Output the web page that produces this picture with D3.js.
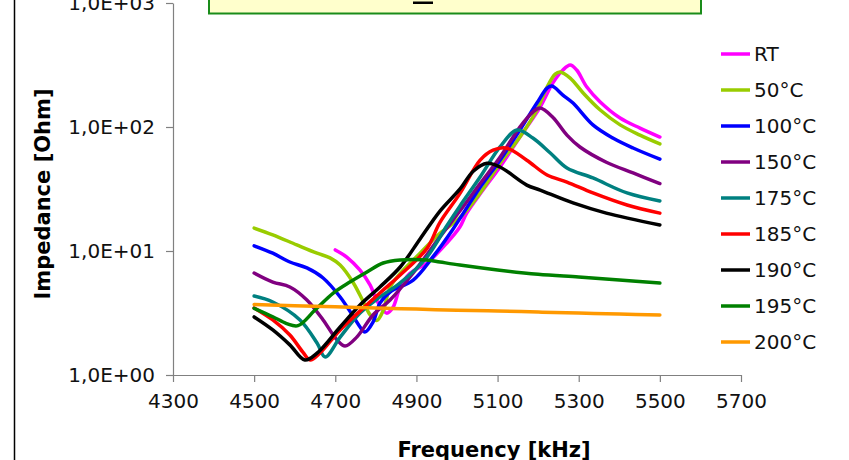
<!DOCTYPE html>
<html><head><meta charset="utf-8">
<script src="https://cdnjs.cloudflare.com/ajax/libs/d3/7.8.5/d3.min.js"></script>
<style>
html,body{margin:0;padding:0;background:#fff;}
svg{display:block;font-family:"DejaVu Sans",Verdana,sans-serif;}
</style></head>
<body><svg id="c" width="849" height="460"></svg>
<script>
const seriesNames = ["RT","50°C","100°C","150°C","175°C","185°C","190°C","195°C","200°C"];
const seriesColors = ["#FF00FF","#99CC00","#0000FF","#800080","#008080","#FF0000","#000000","#008000","#FF9900"];
const xTicks = [4300,4500,4700,4900,5100,5300,5500,5700];
const yTicks = [1,10,100,1000];

const fRT   = [4700,4729,4761,4786,4802,4818,4827,4842,4860,4884,4926,4975,5007,5024,5064,5106,5155,5205,5236,5261,5279,5295,5320,5353,5402,5451,5500];
const zRT   = [10.2,8.9,7.0,5.3,4.0,3.35,3.15,3.5,5.1,6.6,8.0,11.6,15.6,20.2,31,47.6,83,145,226,288,316,288,210,159,118,98,83];
const f50   = [4500,4546,4605,4655,4687,4712,4745,4769,4786,4802,4818,4835,4860,4909,4958,5007,5057,5106,5155,5197,5222,5242,5254,5279,5311,5353,5402,5451,5500];
const z50   = [15.3,13.5,11.2,9.6,8.8,7.7,5.5,3.9,3.05,2.75,3.3,5.1,6.6,9.6,13.9,18.5,29.4,51,83,137,210,267,278,248,188,137,104,86,73];
const f100  = [4500,4546,4588,4630,4670,4712,4745,4761,4773,4793,4810,4835,4892,4941,4990,5057,5106,5155,5197,5222,5234,5261,5286,5335,5384,5434,5500];
const z100  = [11,9.6,8.15,7.3,6.06,4.26,2.94,2.44,2.22,2.67,3.8,4.67,5.83,9.0,15,32.6,54,94.6,156,206,214,181,156,104,81.5,67.7,55];
const f150  = [4500,4546,4588,4630,4670,4704,4724,4753,4793,4835,4892,4958,5007,5057,5106,5155,5187,5205,5236,5271,5303,5368,5434,5500];
const z150  = [6.65,5.62,5.13,4.03,2.78,1.92,1.71,2.02,3.05,4.03,6.65,13,21,35,57,100,132,142,120,86,69,52,42.6,35];
const f175  = [4500,4546,4613,4655,4675,4712,4761,4810,4860,4926,4975,5007,5057,5106,5148,5187,5230,5271,5335,5419,5500];
const z175  = [4.34,3.88,2.78,1.81,1.4,2.02,3.16,4.26,5.53,8.94,16,23,39.5,69,94.6,81.5,61.7,46.7,38.8,29.4,25.3];
const f185  = [4500,4546,4588,4620,4638,4662,4712,4810,4860,4926,4958,5007,5057,5089,5123,5172,5222,5271,5335,5419,5500];
const z185  = [3.47,2.78,2.1,1.53,1.32,1.5,2.31,4.58,6.4,10.5,17,29,54,65,67.5,54,41,36,29.4,23.5,20.2];
const f190  = [4500,4546,4588,4625,4655,4712,4761,4810,4860,4909,4958,5007,5040,5074,5106,5172,5205,5286,5368,5500];
const z190  = [2.94,2.31,1.75,1.32,1.5,2.44,3.67,5.13,7.43,12.5,21,31.5,44,51,47.6,34,31,24.4,20.2,16.2];
const f195  = [4500,4546,4580,4608,4650,4695,4736,4778,4818,4860,4926,4958,5007,5100,5200,5300,5400,5500];
const z195  = [3.45,2.95,2.6,2.5,3.34,4.58,5.62,6.77,8.0,8.46,8.46,8.15,7.7,7.03,6.5,6.17,5.84,5.52];
const f200  = [4500,4600,4700,4800,4900,5000,5100,5200,5300,5400,5500];
const z200  = [3.7,3.62,3.55,3.47,3.4,3.33,3.28,3.22,3.16,3.1,3.05];

const freqs = [fRT,f50,f100,f150,f175,f185,f190,f195,f200];
const imps  = [zRT,z50,z100,z150,z175,z185,z190,z195,z200];

const svg = d3.select("#c");
const x = d3.scaleLinear().domain([4300,5700]).range([173,741]);
const y = d3.scaleLog().domain([1,1000]).range([375,3]);

// outer frame line (left)
svg.append("line").attr("x1",14.5).attr("x2",14.5).attr("y1",0).attr("y2",460)
  .attr("stroke","#000").attr("stroke-width",1.5);

// title box (mostly cut off at top)
svg.append("rect").attr("x",209).attr("y",-30).attr("width",492).attr("height",43.5)
  .attr("fill","#FFFFCC").attr("stroke","#1a8c1a").attr("stroke-width",2);
svg.append("text").attr("x",455).attr("y",0.3).attr("text-anchor","middle")
  .attr("font-size",20).attr("font-weight","bold").attr("fill","#000")
  .text("Resonance:  RT  to  200°C  now");
svg.append("rect").attr("x",413).attr("y",1.5).attr("width",20).attr("height",2.5).attr("fill","#000");

// axes
const fmt = d => "1,0E+0" + Math.round(Math.log10(d));
const gy = svg.append("g").attr("transform","translate(173,0)")
  .call(d3.axisLeft(y).tickValues(yTicks).tickFormat(fmt).tickSize(7).tickSizeOuter(0).tickPadding(11));
const gx = svg.append("g").attr("transform","translate(0,375)")
  .call(d3.axisBottom(x).tickValues(xTicks).tickFormat(d3.format("d")).tickSize(7).tickSizeOuter(0).tickPadding(12));
[gx,gy].forEach(g=>{
  g.selectAll("path,line").attr("stroke","#808080").attr("stroke-width",1.2);
  g.selectAll("text").attr("font-size",20).attr("fill","#111").attr("font-family","DejaVu Sans, Verdana, sans-serif");
});
gx.selectAll("text").attr("dy","0.71em");

svg.append("text").attr("x",494).attr("y",457).attr("text-anchor","middle")
  .attr("font-size",21).attr("font-weight","bold").text("Frequency [kHz]");
svg.append("text").attr("transform","translate(50,194) rotate(-90)").attr("text-anchor","middle")
  .attr("font-size",21).attr("font-weight","bold").text("Impedance [Ohm]");

// lines
const line = d3.line().x(d=>x(d[0])).y(d=>y(d[1])).curve(d3.curveCatmullRom.alpha(0.5));
seriesNames.forEach((n,i)=>{
  const pts = freqs[i].map((f,j)=>[f,imps[i][j]]);
  svg.append("path").datum(pts).attr("d",line).attr("fill","none")
    .attr("stroke",seriesColors[i]).attr("stroke-width",3.5)
    .attr("stroke-linejoin","round").attr("stroke-linecap","round");
});

// legend
const lg = svg.append("g");
seriesNames.forEach((n,i)=>{
  const yy = 54 + i*36;
  lg.append("line").attr("x1",721).attr("x2",750).attr("y1",yy).attr("y2",yy)
    .attr("stroke",seriesColors[i]).attr("stroke-width",3.5);
  lg.append("text").attr("x",754).attr("y",yy).attr("dy","0.36em")
    .attr("font-size",20).attr("fill","#111").text(n);
});
</script></body></html>
